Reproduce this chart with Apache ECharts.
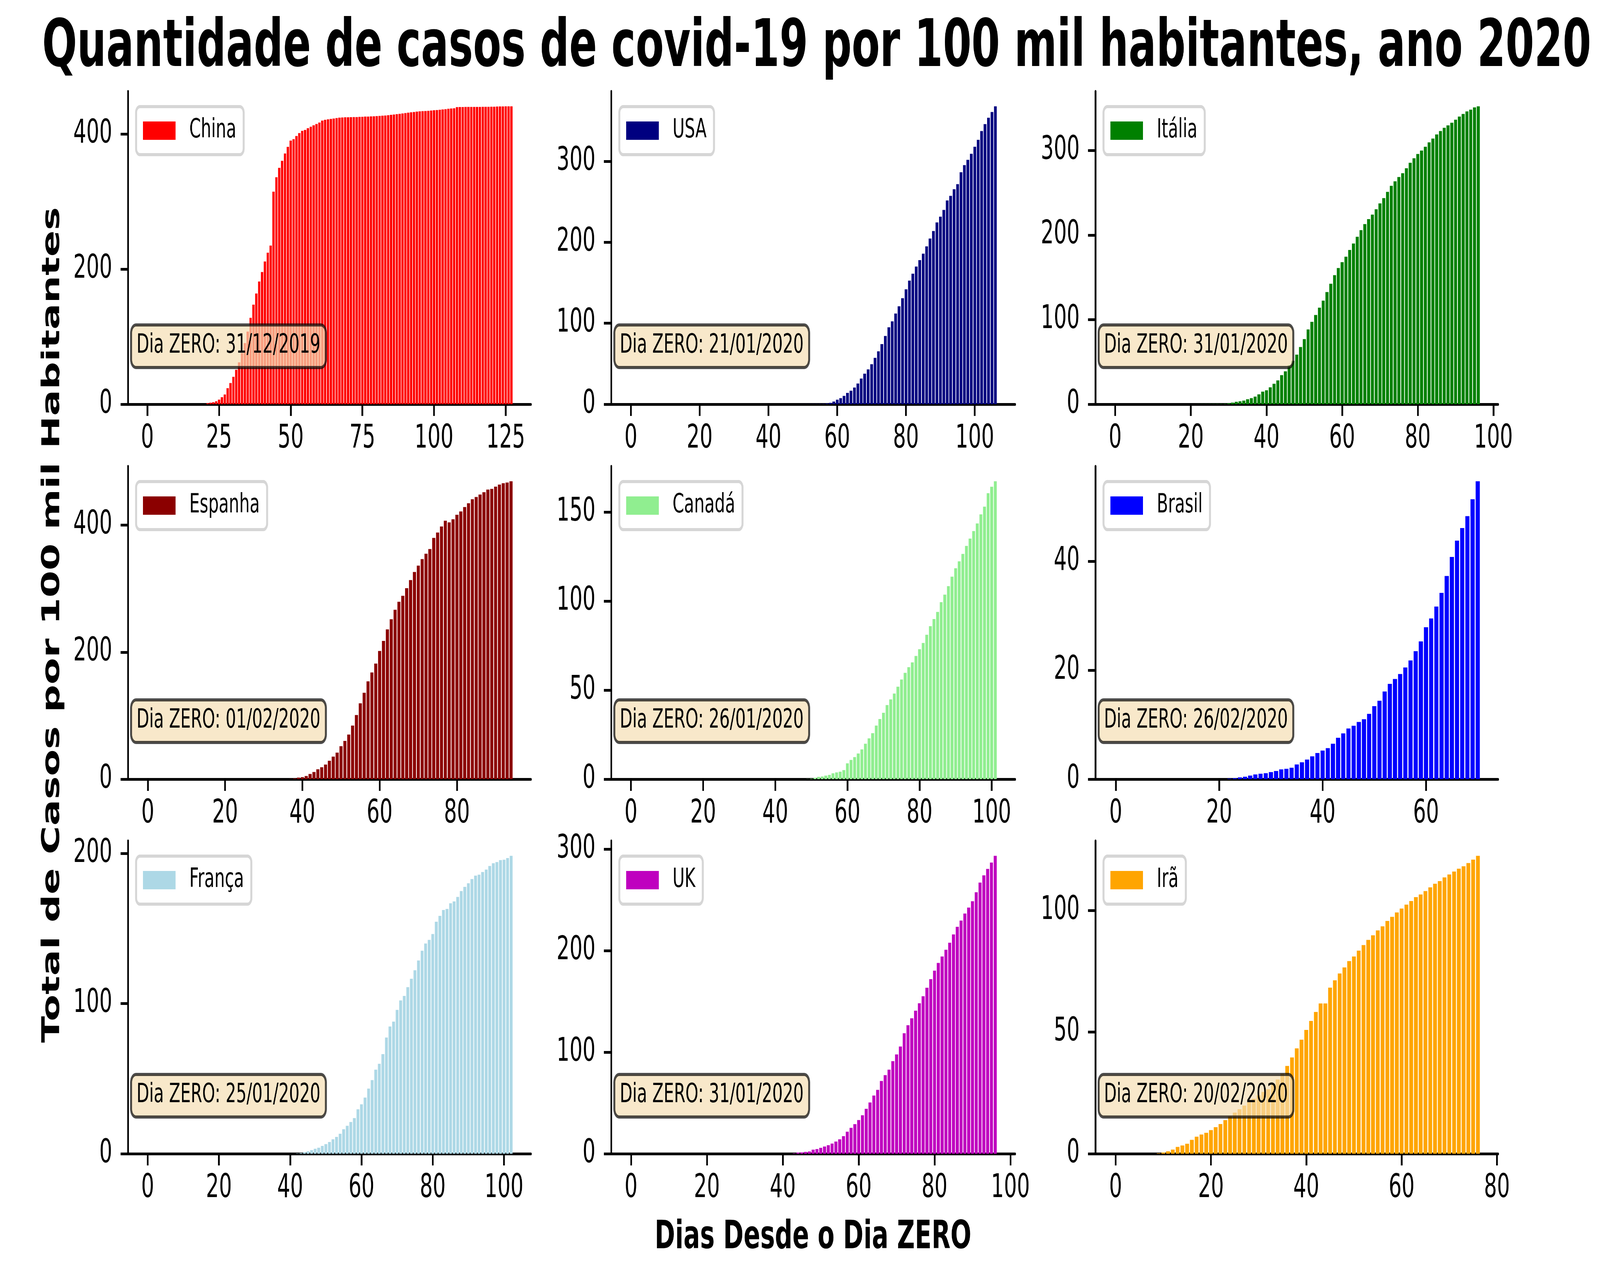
<!DOCTYPE html>
<html><head><meta charset="utf-8">
<script src="https://cdn.jsdelivr.net/npm/echarts@6/dist/echarts.min.js"></script>
<style>html,body{margin:0;padding:0;background:#fff;overflow:hidden}#c{position:absolute;left:0;top:0;width:6516px;height:3285px;transform-origin:0 0}</style>
</head><body><div id="c"></div>
<script>
const titleText = 'Quantidade de casos de covid-19 por 100 mil habitantes, ano 2020';
const xLabelText = 'Dias Desde o Dia ZERO';
const yLabelText = 'Total de Casos por 100 mil Habitantes';
const countries = ['China','USA','Itália','Espanha','Canadá','Brasil','França','UK','Irã'];
const colors = ['#ff0000','#000080','#008000','#8b0000','#90ee90','#0000ff','#add8e6','#bf00bf','#ffa500'];
const dayZero = ['31/12/2019','21/01/2020','31/01/2020','01/02/2020','26/01/2020','26/02/2020','25/01/2020','31/01/2020','20/02/2020'];
const yTickSteps = [200,100,100,200,50,20,100,100,50];
const xTickSteps = [25,20,20,20,20,20,20,20,20];

const china = [
0,0,0,0,0,0,0,0,0,0,
0,0,0,0,0,0,0,0,0,0,
0,1.5,2.3,3.0,4.4,6.8,10.4,14.4,23.8,31.4,
40.6,51.0,62.0,75.7,90.5,107.6,128.0,147.5,164.0,181.8,
195.8,211.4,224.4,235.0,314.8,336.1,350.0,360.5,371.3,381.2,
390.4,392.5,397.2,401.5,404.9,406.1,408.7,410.9,413.1,414.9,
417.1,420.1,421.2,421.9,422.5,423.1,423.8,424.3,424.6,424.9,
425.0,425.1,425.2,425.3,425.5,425.7,425.9,426.0,426.2,426.4,
426.7,427.0,427.3,427.6,428.0,428.5,429.0,429.5,430.0,430.6,
431.2,431.7,432.3,432.8,433.3,433.7,434.0,434.2,434.5,434.9,
435.3,435.7,436.1,436.5,436.9,437.5,437.9,438.2,440.0,440.1,
440.1,440.2,440.2,440.2,440.3,440.3,440.3,440.4,440.4,440.4,
440.5,440.5,440.9,441.0,441.0,441.1,441.1,441.2];

const usa = [
0,0,0,0,0,0,0,0,0,0,
0,0,0,0,0,0,0,0,0,0,
0,0,0,0,0,0,0,0,0,0,
0,0,0,0,0,0,0,0,0,0,
0,0,0,0,0,0,0,0,0,0,
0.1,0.15,0.2,0.25,0.3,0.4,0.5,0.9,1.7,3.3,
5.6,7.5,10.3,14.0,16.7,20.6,25.6,31.7,37.8,43.0,
49.5,57.3,65.4,74.3,84.3,95.0,102.4,112.0,121.0,131.0,
142.0,152.7,161.3,170.0,178.0,186.0,195.0,204.7,214.0,224.5,
231.7,240.0,251.7,257.3,265.6,271.8,286.5,295.4,301.8,309.3,
318.0,326.6,337.4,346.0,353.8,361.0,368.0];

const italia = [
0,0,0,0,0,0,0,0,0,0,
0,0,0,0,0,0,0,0,0,0,
0,0,0.1,0.15,0.2,0.25,0.3,0.35,0.4,0.5,
1.0,1.9,2.9,3.5,4.3,5.9,7.2,9.0,11.7,14.9,
16.5,20.0,24.2,28.2,34.4,38.9,46.0,51.4,58.6,67.6,
77.0,88.4,97.5,105.5,114.2,122.5,132.6,142.5,152.6,161.1,
168.0,174.4,182.4,190.0,198.0,205.9,213.0,218.9,224.2,230.6,
237.5,243.7,251.1,258.3,263.6,268.7,273.2,279.1,285.5,290.8,
295.9,299.9,304.4,309.7,314.2,319.0,323.0,326.8,329.7,332.9,
336.4,340.1,343.3,346.2,348.3,351.0,352.3];

const espanha = [
0,0,0,0,0,0,0,0,0,0,
0,0,0,0,0,0,0,0,0,0,
0,0,0,0,0,0,0,0,0,0,
0,0,0,0,0,0,0,0.3,1.0,2.5,
3.2,5.0,8.2,11.3,15.6,18.8,23.0,29.0,35.5,41.8,
52.0,60.3,70.2,84.4,101.0,119.5,136.0,154.0,168.0,182.0,
201.8,217.7,235.8,251.8,266.7,279.4,288.7,300.7,313.5,326.2,
336.2,346.5,355.0,362.4,379.8,388.3,397.9,407.0,404.3,409.2,
416.3,421.6,428.4,434.4,440.8,444.3,448.2,451.8,456.0,457.1,
460.6,463.8,466.0,467.0,469.1];

const canada = [
0,0,0,0,0,0,0,0,0,0,
0,0,0,0,0,0,0,0,0,0,
0,0,0,0,0,0,0,0,0,0,
0,0,0,0,0,0,0,0,0,0,
0,0,0,0,0,0,0,0,0,0.1,
0.25,0.8,1.3,1.5,2.0,2.4,3.3,3.8,4.2,5.1,
8.9,10.8,12.4,14.4,16.7,19.9,22.9,25.8,30.1,33.8,
37.3,41.6,44.8,48.1,51.9,56.0,59.7,62.9,65.6,69.2,
73.0,76.5,81.1,85.9,89.9,93.9,99.4,103.6,108.4,113.7,
118.4,122.3,126.5,131.0,135.1,139.3,143.6,148.7,153.0,160.6,
164.2,167.3];

const brasil = [
0,0,0,0,0,0,0,0,0,0,
0,0,0,0,0,0,0,0,0,0,
0,0,0.1,0.17,0.33,0.45,0.66,0.87,1.0,1.1,
1.3,1.5,1.8,1.9,2.1,2.7,3.1,3.6,4.2,4.8,
5.25,5.7,6.5,7.6,8.4,9.3,9.8,10.5,11.0,12.0,
13.4,14.4,16.1,17.5,18.4,19.3,20.5,21.8,23.5,25.3,
27.9,29.5,31.7,34.2,37.3,40.8,43.8,46.1,48.3,51.4,
54.7];

const franca = [
0,0,0,0,0,0,0,0,0,0,
0,0,0,0,0,0,0,0,0,0,
0,0,0,0,0,0,0,0,0,0,
0,0,0,0,0,0,0,0,0,0,
0,0,0.2,0.45,1.0,1.6,2.4,3.3,4.0,5.2,
6.4,7.8,9.6,11.2,13.3,16.3,18.6,21.1,23.7,29.6,
32.9,37.4,43.4,49.0,56.0,59.9,66.3,77.4,84.7,88.0,
95.8,102.1,105.1,110.9,116.5,122.2,128.7,135.2,140.0,142.4,
146.3,154.5,158.4,162.3,163.0,166.8,168.0,171.0,174.9,177.7,
180.1,182.9,185.2,185.8,187.6,189.2,191.6,193.4,194.2,195.5,
195.8,196.9,198.4];

const uk = [
0,0,0,0,0,0,0,0,0,0,
0,0,0,0,0,0,0,0,0,0,
0,0,0,0,0,0,0,0,0,0,
0,0,0,0,0,0,0,0,0,0,
0,0,0,0.4,1.1,1.3,1.8,2.2,4.0,4.6,
5.8,7.1,8.4,10.0,12.0,14.2,17.3,21.7,25.5,29.2,
33.2,37.9,44.3,50.5,57.3,62.9,71.7,77.5,82.8,91.2,
97.9,105.6,118.7,126.6,133.5,141.0,148.3,155.2,163.6,172.0,
180.4,188.0,194.4,201.0,207.9,216.1,223.6,229.8,236.7,242.6,
248.8,257.7,267.2,274.3,280.7,286.9,293.6];

const ira = [
0,0,0,0,0,0,0,0,0,0.2,
0.5,1.0,1.7,2.8,3.4,4.1,5.7,7.0,7.9,8.6,
9.7,10.9,12.2,13.8,15.5,16.9,18.3,19.8,21.3,22.6,
24.0,25.4,26.5,28.7,30.5,32.8,36.1,39.6,43.3,46.9,
50.9,54.6,58.3,61.8,61.8,68.3,71.3,74.1,76.6,79.2,
81.1,83.5,85.8,87.9,89.8,91.8,93.5,95.7,97.4,99.2,
100.8,102.4,103.9,105.5,106.6,108.0,109.5,111.0,112.1,113.6,
114.8,116.0,117.2,118.2,119.5,120.9,122.5];

const seriesValues = [china, usa, italia, espanha, canada, brasil, franca, uk, ira];

// layout (pixels in the 6516x3285 frame)
const FONT = 'DejaVu Sans';
const FW = 6516, FH = 3285;
const colLeft = [521, 2489, 4461];
const colWidth = [1641, 1645, 1640];
const rowTop = [234, 1194, 2153];
const rowHeight = 801;

// if the window is smaller than the 6516x3285 frame, stretch the frame onto the window
const el = document.getElementById('c');
const sx = Math.min(1, window.innerWidth / FW), sy = Math.min(1, window.innerHeight / FH);
if (sx < 1 || sy < 1) el.style.transform = 'scale(' + sx + ',' + sy + ')';

const grids = [], xAxes = [], yAxes = [], series = [], legends = [], titles = [];
seriesValues.forEach(function (vals, i) {
  const r = Math.floor(i / 3), c = i % 3;
  const n = vals.length;
  const span = (n - 1) + 0.8;
  const xmin = -0.4 - 0.05 * span, xmax = (n - 1) + 0.4 + 0.05 * span;
  const ymax = Math.max.apply(null, vals) * 1.05;
  const xt = []; for (let v = 0; v <= xmax; v += xTickSteps[i]) xt.push(v);
  const yt = []; for (let v = 0; v <= ymax; v += yTickSteps[i]) yt.push(v);
  const barW = colWidth[c] / (xmax - xmin) * 0.8;

  grids.push({left: colLeft[c], top: rowTop[r], width: colWidth[c], height: rowHeight,
    containLabel: false, outerBoundsMode: 'none', show: false});
  xAxes.push({type: 'value', gridIndex: i, min: xmin, max: xmax,
    axisLine: {show: true, onZero: false, lineStyle: {color: '#000', width: 7}},
    axisTick: {show: true, inside: false, length: 30, customValues: xt, lineStyle: {color: '#000', width: 7}},
    axisLabel: {show: true, customValues: xt, fontSize: 83, color: '#000', margin: 48, fontFamily: FONT,
      formatter: function (v) { return String(Math.round(v)); }},
    splitLine: {show: false}, splitArea: {show: false}});
  yAxes.push({type: 'value', gridIndex: i, min: 0, max: ymax,
    axisLine: {show: true, onZero: false, lineStyle: {color: '#000', width: 7}},
    axisTick: {show: true, inside: false, length: 30, customValues: yt, lineStyle: {color: '#000', width: 7}},
    axisLabel: {show: true, customValues: yt, fontSize: 83, color: '#000', margin: 64, fontFamily: FONT,
      formatter: function (v) { return String(Math.round(v)); }},
    splitLine: {show: false}, splitArea: {show: false}});
  series.push({type: 'bar', name: countries[i], xAxisIndex: i, yAxisIndex: i,
    data: vals.map(function (v, k) { return [k, v]; }),
    barWidth: barW, itemStyle: {color: colors[i]}, silent: true, animation: false,
    emphasis: {disabled: true}});
  legends.push({show: true, data: [countries[i]], left: colLeft[c] + 33, top: rowTop[r] + 39,
    orient: 'vertical', icon: 'rect', itemWidth: 133, itemHeight: 47, selectedMode: false,
    padding: [28, 30, 28, 28], backgroundColor: 'rgba(255,255,255,0.8)',
    borderColor: '#d6d6d6', borderWidth: 8, borderRadius: 16,
    textStyle: {fontSize: 67, color: '#000', fontFamily: FONT, lineHeight: 67, padding: [0, 0, 0, 51]}});
  titles.push({show: true, text: 'Dia ZERO: ' + dayZero[i], left: colLeft[c] + 13, top: rowTop[r] + rowHeight - 203,
    padding: [14, 22, 15, 22], backgroundColor: 'rgba(245,222,179,0.7)',
    borderColor: 'rgba(0,0,0,0.7)', borderWidth: 8, borderRadius: 20,
    textStyle: {fontSize: 67, fontWeight: 'normal', color: '#000', fontFamily: FONT, lineHeight: 80}});
});

const chart = echarts.init(el, null, {renderer: 'canvas', width: FW, height: FH, devicePixelRatio: 1});
chart.setOption({
  animation: false,
  backgroundColor: '#ffffff',
  textStyle: {fontFamily: FONT},
  title: titles,
  legend: legends,
  grid: grids,
  xAxis: xAxes,
  yAxis: yAxes,
  series: series,
  graphic: [
    {type: 'text', x: 3326, y: 126, silent: true,
      style: {text: titleText, fontSize: 167, fontWeight: 'bold', fontFamily: FONT, fill: '#000',
        align: 'center', verticalAlign: 'middle', textAlign: 'center', textVerticalAlign: 'middle'}},
    {type: 'text', x: 3311, y: 3170, silent: true,
      style: {text: xLabelText, fontSize: 100, fontWeight: 'bold', fontFamily: FONT, fill: '#000',
        align: 'center', verticalAlign: 'middle', textAlign: 'center', textVerticalAlign: 'middle'}},
    {type: 'text', x: 215, y: 1600, rotation: Math.PI / 2, silent: true,
      style: {text: yLabelText, fontSize: 100, fontWeight: 'bold', fontFamily: FONT, fill: '#000',
        align: 'center', verticalAlign: 'middle', textAlign: 'center', textVerticalAlign: 'middle'}}
  ]
});
</script>
</body></html>
